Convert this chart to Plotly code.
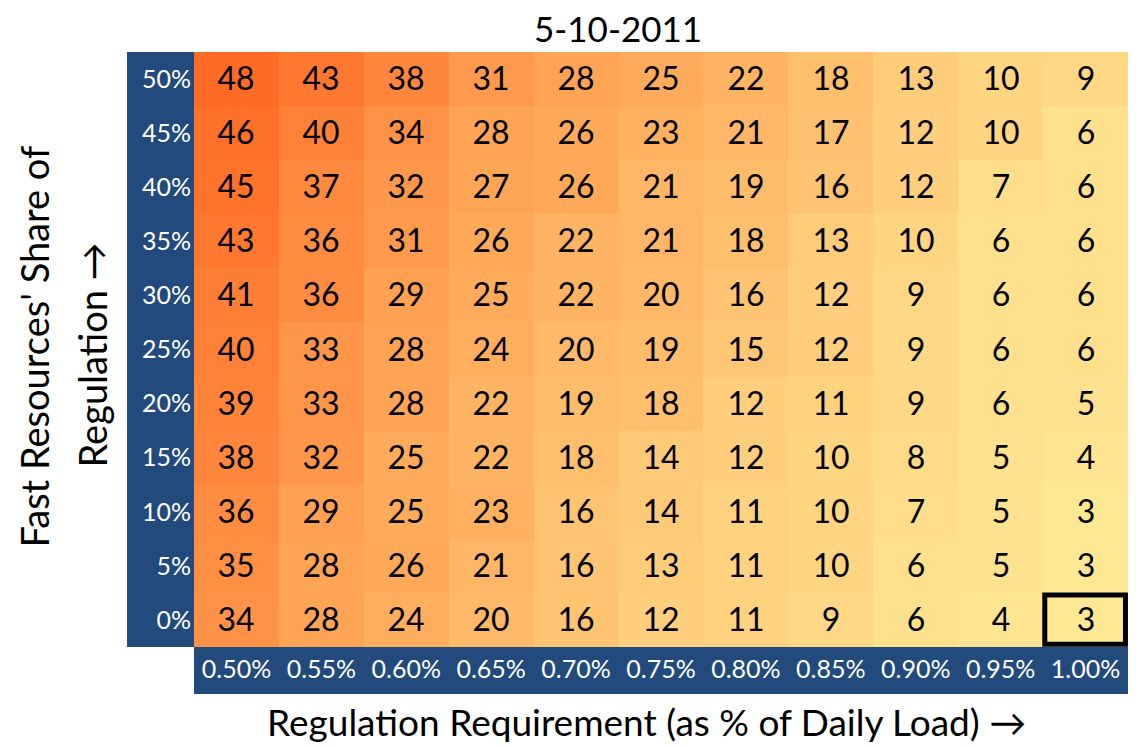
import plotly.graph_objects as go

# data
reg_req = ["0.50%", "0.55%", "0.60%", "0.65%", "0.70%", "0.75%", "0.80%", "0.85%", "0.90%", "0.95%", "1.00%"]
fast_share = ["0%", "5%", "10%", "15%", "20%", "25%", "30%", "35%", "40%", "45%", "50%"]

# rows bottom (0%) to top (50%)
values = [
    [34, 28, 24, 20, 16, 12, 11, 9, 6, 4, 3],
    [35, 28, 26, 21, 16, 13, 11, 10, 6, 5, 3],
    [36, 29, 25, 23, 16, 14, 11, 10, 7, 5, 3],
    [38, 32, 25, 22, 18, 14, 12, 10, 8, 5, 4],
    [39, 33, 28, 22, 19, 18, 12, 11, 9, 6, 5],
    [40, 33, 28, 24, 20, 19, 15, 12, 9, 6, 6],
    [41, 36, 29, 25, 22, 20, 16, 12, 9, 6, 6],
    [43, 36, 31, 26, 22, 21, 18, 13, 10, 6, 6],
    [45, 37, 32, 27, 26, 21, 19, 16, 12, 7, 6],
    [46, 40, 34, 28, 26, 23, 21, 17, 12, 10, 6],
    [48, 43, 38, 31, 28, 25, 22, 18, 13, 10, 9],
]

# highlighted cell (bottom right)
hl_x, hl_y = "1.00%", "0%"

BLUE = "#224A7C"
FONT = "Lato"

fig = go.Figure(go.Heatmap(
    x=reg_req, y=fast_share, z=values,
    colorscale=[[0, "#FFE894"], [0.5, "#FFAA5A"], [1, "#FF6A24"]],
    showscale=False,
    texttemplate="%{z}",
    textfont=dict(size=32, color="black", family=FONT),
    hoverinfo="skip",
))

xi = reg_req.index(hl_x)
yi = fast_share.index(hl_y)

# page has an 8px body margin, so margins are offset by that
fig.update_layout(
    width=1145, height=748,
    margin=dict(l=186, r=25, t=44, b=109),
    paper_bgcolor="white", plot_bgcolor="white",
    font=dict(family=FONT, color="black"),
    shapes=[
        # blue band behind y tick labels
        dict(type="rect", xref="x domain", yref="y domain", x0=-0.0717, x1=0, y0=0, y1=1,
             fillcolor=BLUE, line_width=0, layer="below"),
        # blue band behind x tick labels
        dict(type="rect", xref="x domain", yref="y domain", x0=0, x1=1, y0=-0.079, y1=0,
             fillcolor=BLUE, line_width=0, layer="below"),
        dict(type="rect", xref="x", yref="y", x0=xi - 0.48, x1=xi + 0.47, y0=yi - 0.45, y1=yi + 0.46,
             line=dict(color="black", width=5), fillcolor="rgba(0,0,0,0)"),
    ],
    annotations=[
        dict(text="5-10-2011", xref="paper", yref="paper", x=0.454, y=1.0, yshift=24,
             xanchor="center", yanchor="middle", showarrow=False, font=dict(size=35)),
        dict(text="Fast Resources' Share of", xref="paper", yref="paper",
             x=-0.1713, y=0.505, textangle=-90, xanchor="center", yanchor="middle",
             showarrow=False, font=dict(size=38)),
        dict(text="Regulation →", xref="paper", yref="paper",
             x=-0.1092, y=0.49, textangle=-90, xanchor="center", yanchor="middle",
             showarrow=False, font=dict(size=38)),
        dict(text="Regulation Requirement (as % of Daily Load) →", xref="paper", yref="paper",
             x=0.484, y=-0.125, xanchor="center", yanchor="middle", showarrow=False,
             font=dict(size=37)),
    ],
)
fig.update_xaxes(showgrid=False, zeroline=False, ticks="", tickfont=dict(size=25, color="white"),
                 ticklabelstandoff=5)
fig.update_yaxes(showgrid=False, zeroline=False, ticks="", tickfont=dict(size=25, color="white"),
                 ticklabelstandoff=2)

fig.write_html("out.html")
